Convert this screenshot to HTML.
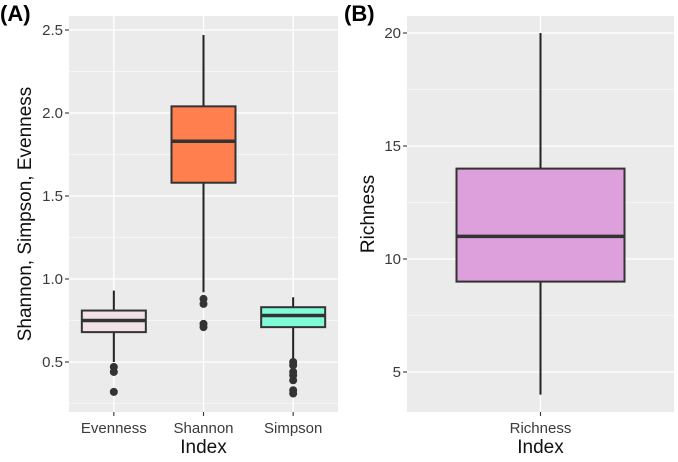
<!DOCTYPE html>
<html><head><meta charset="utf-8"><style>
body{margin:0;background:#fff;width:678px;height:457px;overflow:hidden}
text{font-family:"Liberation Sans",Arial,sans-serif}
</style></head><body>
<svg id="s" width="678" height="457"></svg>
<script>
const catsA=["Evenness","Shannon","Simpson"];
const whiskHiA=[0.93,2.47,0.89];
const q3A=[0.81,2.04,0.83];
const medA=[0.75,1.83,0.78];
const q1A=[0.68,1.58,0.71];
const whiskLoA=[0.50,0.92,0.52];
const outA=[[0.47,0.44,0.32],[0.88,0.85,0.73,0.71],[0.50,0.48,0.44,0.42,0.39,0.33,0.31]];
const colA=["#f2e1e7","#ff7f4f","#7ffcd7"];
const ticksA=[0.5,1.0,1.5,2.0,2.5];
const catsB=["Richness"];
const whiskHiB=[20];const q3B=[14];const medB=[11];const q1B=[9];const whiskLoB=[4];
const ticksB=[5,10,15,20];
const S=document.getElementById('s');const NS="http://www.w3.org/2000/svg";
function el(t,a,p){const e=document.createElementNS(NS,t);for(const k in a)e.setAttribute(k,a[k]);(p||S).appendChild(e);return e;}
function panel(o){
 const g=el('g',{});
 
 
 const bg=el('rect',{x:o.x0,y:16,width:o.x1-o.x0,height:396,fill:'#ebebeb'},g);
 
 const y=v=>o.yv0+(v-o.v0)*o.k;
 const n=o.cats.length,bw=(o.x1-o.x0)/n;
 const xc=i=>o.x0+bw*(i+0.5);
 for(let i=0;i<o.ticks.length+1;i++){const v=o.ticks[0]+(i-0.5)*(o.ticks[1]-o.ticks[0]);const yy=y(v);if(yy>16&&yy<412)el('line',{x1:o.x0,x2:o.x1,y1:yy,y2:yy,stroke:'#fff','stroke-width':0.6},g);}
 o.ticks.forEach((t,i)=>{const yy=y(t);
  el('line',{x1:o.x0,x2:o.x1,y1:yy,y2:yy,stroke:'#fff','stroke-width':1.3},g);
  el('line',{x1:o.x0-4,x2:o.x0,y1:yy,y2:yy,stroke:'#333','stroke-width':1.1},g);
  const tx=el('text',{x:o.x0-6,y:yy+5,'text-anchor':'end','font-size':15,fill:'#3a3a3a'},g);tx.textContent=o.tl(t);
  });
 o.cats.forEach((c,i)=>{const x=xc(i);
  el('line',{x1:x,x2:x,y1:16,y2:412,stroke:'#fff','stroke-width':1.3},g);
  el('line',{x1:x,x2:x,y1:412,y2:416,stroke:'#333','stroke-width':1.1},g);
  const tx=el('text',{x:x,y:433,'text-anchor':'middle','font-size':15,fill:'#3a3a3a'},g);tx.textContent=c;
  
  const b=el('g',{},g);
  el('line',{x1:x,x2:x,y1:y(o.hi[i]),y2:y(o.lo[i]),stroke:'#222','stroke-width':2},b);
  el('rect',{x:x-o.hw,y:y(o.q3[i]),width:2*o.hw,height:y(o.q1[i])-y(o.q3[i]),fill:o.col[i],stroke:'#333','stroke-width':2},b);
  el('line',{x1:x-o.hw,x2:x+o.hw,y1:y(o.med[i]),y2:y(o.med[i]),stroke:'#333','stroke-width':3.5},b);
  (o.out?o.out[i]:[]).forEach(v=>{const c2=el('circle',{cx:x,cy:y(v),r:4,fill:'#333'},b);});
 });
 const xt=el('text',{x:(o.x0+o.x1)/2,y:453,'text-anchor':'middle','font-size':19,fill:'#111'},g);xt.textContent='Index';
 
 const yt=el('text',{x:0,y:0,'text-anchor':'middle','font-size':19,fill:'#111',transform:`translate(${o.ytx},214) rotate(-90)`},g);yt.textContent=o.ytitle;
 
 const pl=el('text',{x:o.lx,y:21,'font-size':22,'font-weight':'bold',fill:'#000'},g);pl.textContent=o.label;
 
}
panel({name:'panel-a',x0:69,x1:338,v0:0.5,yv0:362,k:-166,cats:catsA,hi:whiskHiA,q3:q3A,med:medA,q1:q1A,lo:whiskLoA,out:outA,col:colA,hw:32,ticks:ticksA,tl:t=>t.toFixed(1),ytitle:'Shannon, Simpson, Evenness',ytx:31,label:'(A)',lx:0});
panel({name:'panel-b',x0:407,x1:674,v0:5,yv0:372,k:-22.6,cats:catsB,hi:whiskHiB,q3:q3B,med:medB,q1:q1B,lo:whiskLoB,col:["#dda0dd"],hw:84,ticks:ticksB,tl:t=>String(t),ytitle:'Richness',ytx:374,label:'(B)',lx:344});
</script>
</body></html>
